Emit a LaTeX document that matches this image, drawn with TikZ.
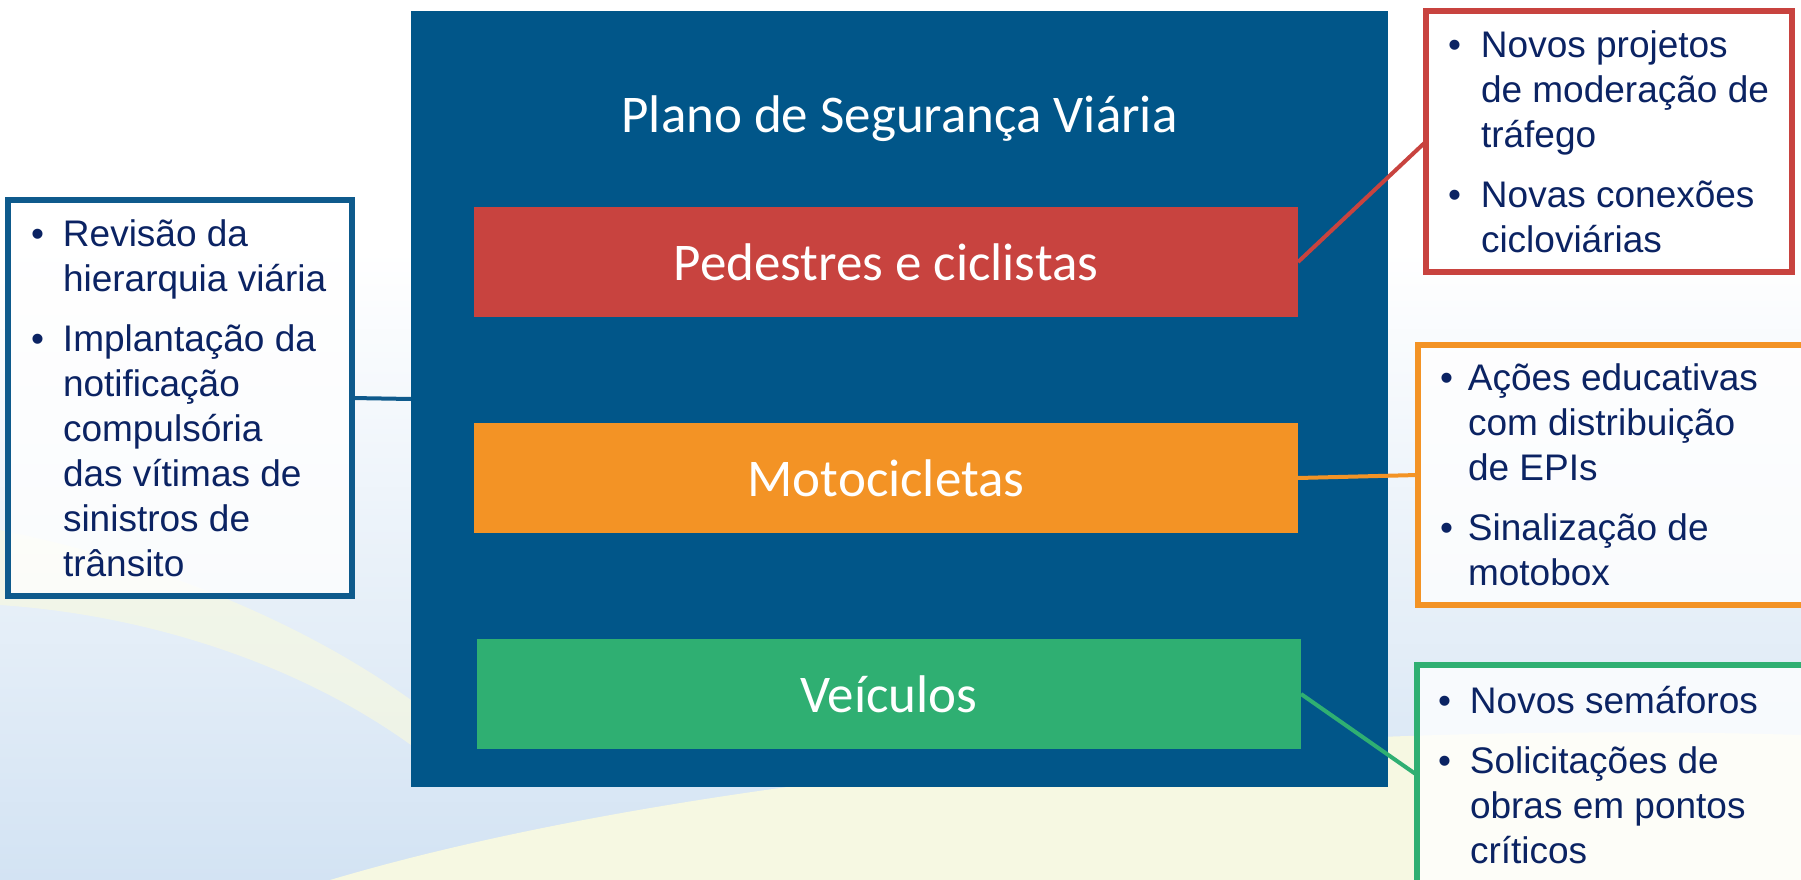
\documentclass[tikz,border=0pt]{standalone}
\usepackage{fontspec}
\setmainfont{Liberation Sans}
\newfontfamily\calfont{Carlito}
\definecolor{bigblue}{HTML}{015689}
\definecolor{redc}{HTML}{C8433F}
\definecolor{orangec}{HTML}{F39325}
\definecolor{greenc}{HTML}{2FAF72}
\definecolor{leftc}{HTML}{0E5A8C}
\definecolor{navy}{HTML}{0B2363}
\definecolor{bgblue}{HTML}{D3E3F3}
\definecolor{bgyellow}{HTML}{F6F8E2}
% bullet list block: #1 width, #2 hang, #3 content
\newcommand\bulblock[3]{\begin{minipage}{#1}\raggedright\leftskip=#2\relax\hyphenpenalty=10000\relax #3\end{minipage}}
\newcommand\bulmark[1]{\leavevmode\llap{\makebox[#1][l]{\textbullet}}}
\newcommand\bulgap{\par\vspace{15pt}}
\begin{document}
\begin{tikzpicture}[x=1pt,y=-1pt,
  bar/.style={rectangle, draw=none, minimum width=824pt, minimum height=110pt, anchor=north west, outer sep=0pt, inner sep=0pt, text=white, font=\calfont\fontsize{53}{60}\selectfont},
  side/.style={rectangle, fill=white, fill opacity=0.78, text opacity=1, anchor=north west, outer sep=0pt, inner ysep=0pt, text=navy, font=\fontsize{37}{45}\selectfont, line width=5.5pt},
  conn/.style={line width=4pt}]
\useasboundingbox (0,0) rectangle (1801,880);
% background
\fill[white] (0,0) rectangle (1801,880);
\shade[top color=white, bottom color=bgblue] (0,250) rectangle (1801,880);
\fill[bgyellow, opacity=0.7] (0,530) .. controls (150,560) and (300,620) .. (411,700) -- (411,745) .. controls (300,665) and (150,615) .. (0,605) -- cycle;
\fill[bgyellow] (330,880) .. controls (700,770) and (1300,720) .. (1801,735) -- (1801,880) -- cycle;
% main box
\node[fill=bigblue, minimum width=977pt, minimum height=776pt, anchor=north west, inner sep=0pt, outer sep=0pt] (plano) at (411,11) {};
\node[anchor=base, text=white, font=\calfont\fontsize{53}{60}\selectfont] (titulo) at (899.5,133) {Plano de Segurança Viária};
\node[bar, fill=redc] (ped) at (474,207) {Pedestres e ciclistas};
\node[bar, fill=orangec] (moto) at (474,423) {Motocicletas};
\node[bar, fill=greenc] (veic) at (477,639) {Veículos};
% side boxes
\node[side, draw=leftc, inner xsep=23pt, minimum height=396pt] (esq) at (8,200) {\bulblock{298pt}{32pt}{%
\bulmark{32pt}Revisão da\\hierarquia~viária\bulgap
\bulmark{32pt}Implantação da\\notificação\\compulsória\\das vítimas de\\sinistros de\\trânsito}};
\node[side, draw=redc, line width=6pt, inner xsep=22pt, minimum height=261pt] (dirR) at (1426,11) {\bulblock{322pt}{33pt}{%
\bulmark{33pt}Novos projetos\\de~moderação~de\\tráfego\bulgap
\bulmark{33pt}Novas conexões\\cicloviárias}};
\node[side, draw=orangec, line width=6pt, inner xsep=22pt, minimum height=260pt] (dirO) at (1418,345) {\bulblock{346pt}{28pt}{%
\bulmark{28pt}Ações educativas\\com distribuição\\de EPIs\bulgap
\bulmark{28pt}Sinalização de\\motobox}};
\node[side, draw=greenc, line width=6pt, inner xsep=21pt, minimum height=220pt] (dirG) at (1417,665) {\bulblock{347pt}{32pt}{%
\bulmark{32pt}Novos semáforos\bulgap
\bulmark{32pt}Solicitações de\\obras em pontos\\críticos}};
% connectors
\draw[conn, draw=leftc] (esq.east) -- (plano.west);
\draw[conn, draw=redc] (ped.east) -- (dirR.west);
\draw[conn, draw=orangec] (moto.east) -- (dirO.west);
\draw[conn, draw=greenc] (veic.east) -- (dirG.west);
\end{tikzpicture}
\end{document}
